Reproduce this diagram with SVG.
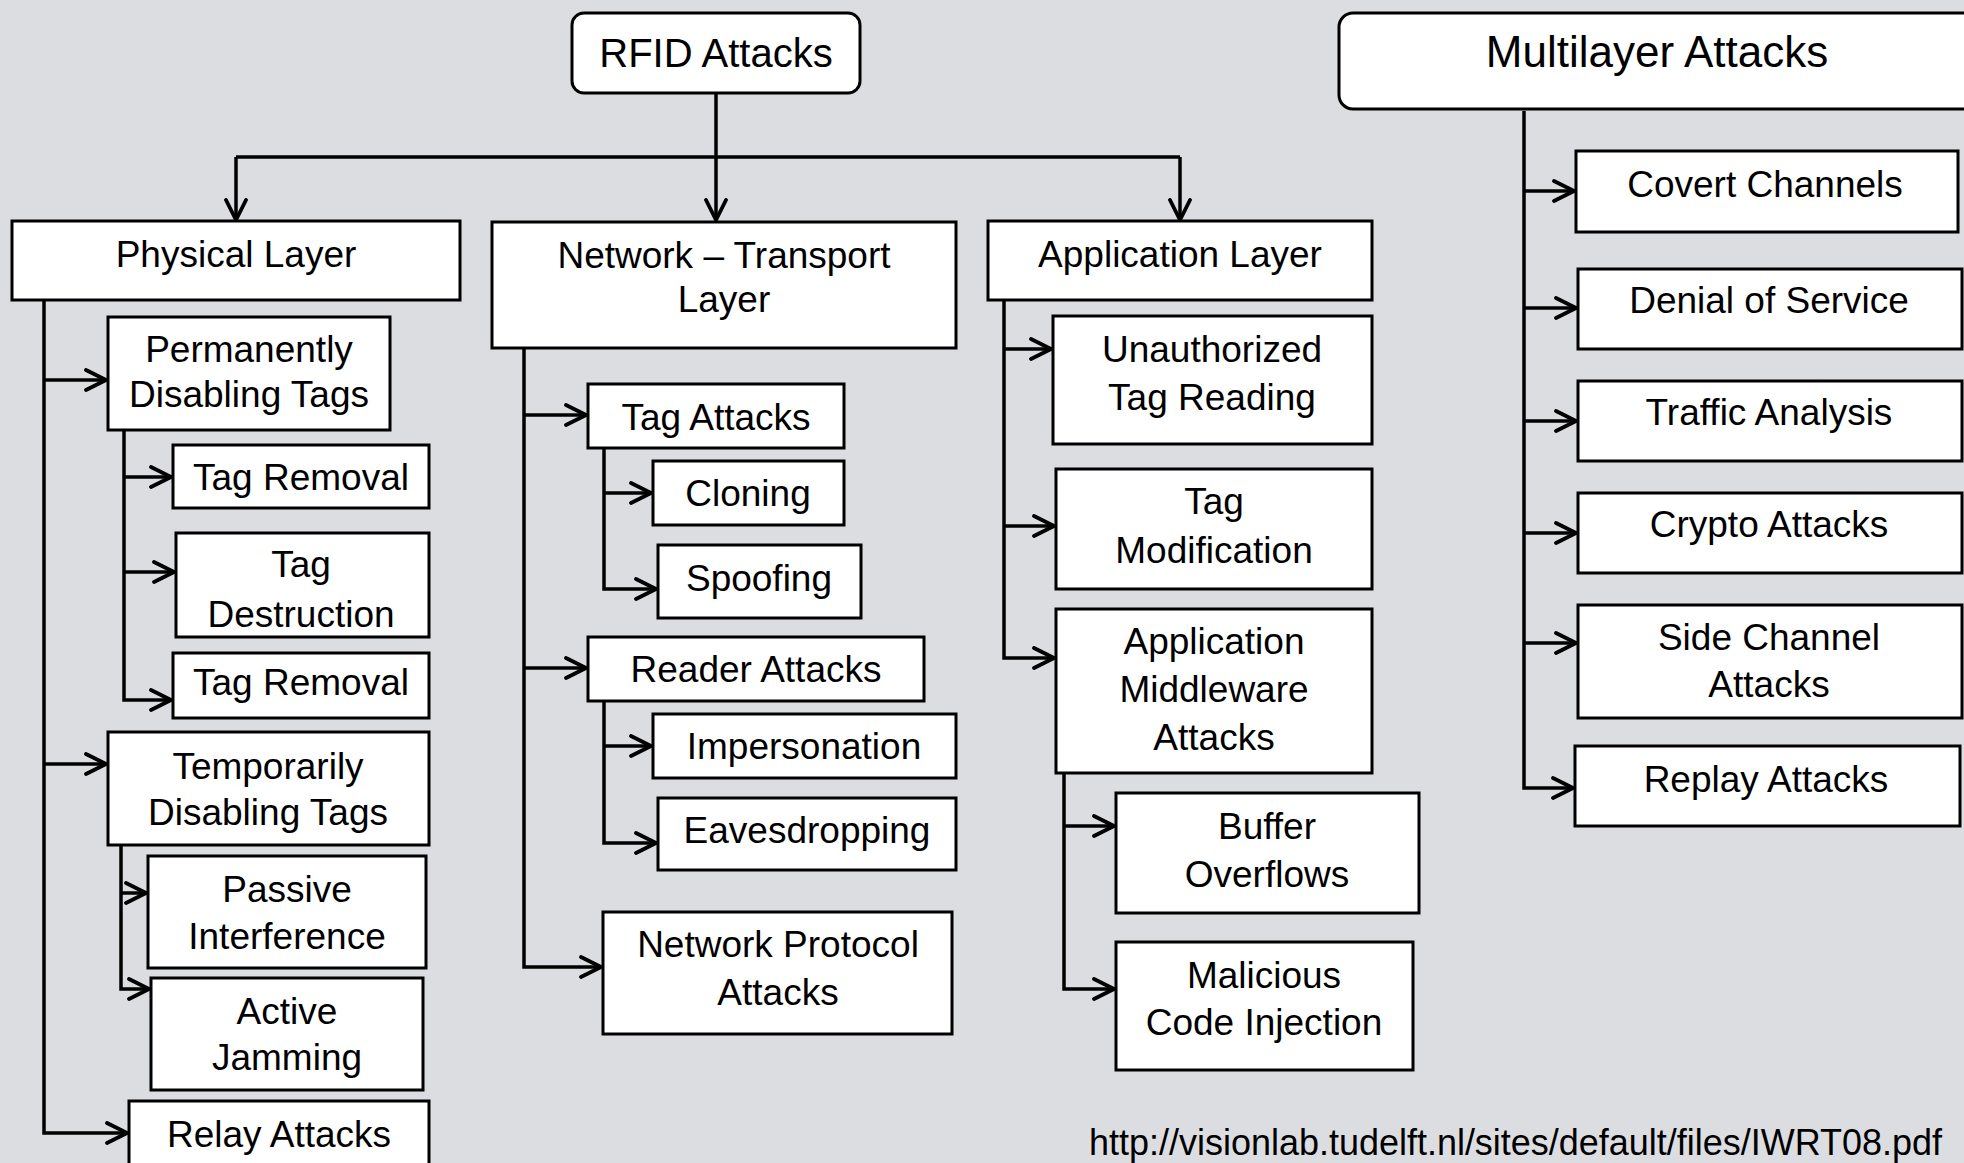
<svg xmlns="http://www.w3.org/2000/svg" width="1964" height="1163" viewBox="0 0 1964 1163">
  <style>
    .box { fill: #ffffff; stroke: #000000; stroke-width: 3; }
    .lbl { font-family: "Liberation Sans", Arial, sans-serif; font-size: 37px; fill: #000000; text-anchor: middle; }
    .ttl { font-family: "Liberation Sans", Arial, sans-serif; fill: #000000; text-anchor: middle; }
    .url { font-family: "Liberation Sans", Arial, sans-serif; font-size: 36px; fill: #000000; }
    .wire { fill: none; stroke: #000000; stroke-width: 3.5; }
    .arr { marker-end: url(#chev); }
  </style>
  <defs>
    <marker id="chev" markerUnits="userSpaceOnUse" viewBox="-2 -2 26 26" refX="20" refY="10" markerWidth="26" markerHeight="26" orient="auto">
      <path d="M0,0 L20,10 L0,20" fill="none" stroke="#000000" stroke-width="3.8" stroke-linejoin="round" stroke-linecap="round"/>
    </marker>
  </defs>

  <rect width="1964" height="1163" fill="#dcdde0"/>

  <!-- connectors -->
  <g id="connectors">
    <!-- root to the three layers -->
    <path class="wire" d="M236,157 H1180" stroke-width="4"/>
    <path class="wire arr" d="M716,93 V220"/>
    <path class="wire arr" d="M236,157 V220"/>
    <path class="wire arr" d="M1180,157 V220"/>

    <!-- physical layer -->
    <path class="wire arr" d="M44,300 V1133 H127"/>
    <path class="wire arr" d="M44,380 H106"/>
    <path class="wire arr" d="M44,764 H106"/>
    <path class="wire arr" d="M124,430 V700 H171"/>
    <path class="wire arr" d="M124,477 H171"/>
    <path class="wire arr" d="M124,572 H174"/>
    <path class="wire arr" d="M121,845 V989 H149"/>
    <path class="wire arr" d="M121,893 H146"/>

    <!-- network - transport layer -->
    <path class="wire arr" d="M524,348 V967 H601"/>
    <path class="wire arr" d="M524,415 H586"/>
    <path class="wire arr" d="M524,668 H586"/>
    <path class="wire arr" d="M604,448 V589 H656"/>
    <path class="wire arr" d="M604,493 H651"/>
    <path class="wire arr" d="M604,701 V843 H656"/>
    <path class="wire arr" d="M604,746 H651"/>

    <!-- application layer -->
    <path class="wire arr" d="M1004,300 V658 H1054"/>
    <path class="wire arr" d="M1004,349 H1051"/>
    <path class="wire arr" d="M1004,526 H1054"/>
    <path class="wire arr" d="M1064,773 V989 H1114"/>
    <path class="wire arr" d="M1064,826 H1114"/>

    <!-- multilayer -->
    <path class="wire arr" d="M1524,111 V788 H1573"/>
    <path class="wire arr" d="M1524,191 H1574"/>
    <path class="wire arr" d="M1524,308 H1576"/>
    <path class="wire arr" d="M1524,421 H1576"/>
    <path class="wire arr" d="M1524,533 H1576"/>
    <path class="wire arr" d="M1524,643 H1576"/>
  </g>

  <!-- roots -->
  <g id="rfid-attacks">
    <rect class="box" x="572" y="13" width="288" height="80" rx="12"/>
    <text class="ttl" x="716" y="67" font-size="40">RFID Attacks</text>
  </g>
  <g id="multilayer-attacks">
    <rect class="box" x="1339" y="13" width="660" height="96" rx="14"/>
    <text class="ttl" x="1657" y="67" font-size="44">Multilayer Attacks</text>
  </g>

  <!-- layers -->
  <g id="physical-layer">
    <rect class="box" x="12" y="221" width="448" height="79"/>
    <text class="lbl" x="236" y="267">Physical Layer</text>
  </g>
  <g id="network-transport-layer">
    <rect class="box" x="492" y="222" width="464" height="126"/>
    <text class="lbl" x="724" y="268">Network – Transport</text>
    <text class="lbl" x="724" y="312">Layer</text>
  </g>
  <g id="application-layer">
    <rect class="box" x="988" y="221" width="384" height="79"/>
    <text class="lbl" x="1180" y="267">Application Layer</text>
  </g>

  <!-- physical layer attacks -->
  <g id="permanently-disabling-tags">
    <rect class="box" x="108" y="317" width="282" height="113"/>
    <text class="lbl" x="249" y="362">Permanently</text>
    <text class="lbl" x="249" y="407">Disabling Tags</text>
  </g>
  <g id="tag-removal-1">
    <rect class="box" x="173" y="445" width="256" height="63"/>
    <text class="lbl" x="301" y="490">Tag Removal</text>
  </g>
  <g id="tag-destruction">
    <rect class="box" x="176" y="533" width="253" height="104"/>
    <text class="lbl" x="301" y="577">Tag</text>
    <text class="lbl" x="301" y="627">Destruction</text>
  </g>
  <g id="tag-removal-2">
    <rect class="box" x="173" y="653" width="256" height="65"/>
    <text class="lbl" x="301" y="695">Tag Removal</text>
  </g>
  <g id="temporarily-disabling-tags">
    <rect class="box" x="108" y="732" width="321" height="113"/>
    <text class="lbl" x="268" y="779">Temporarily</text>
    <text class="lbl" x="268" y="825">Disabling Tags</text>
  </g>
  <g id="passive-interference">
    <rect class="box" x="148" y="856" width="278" height="112"/>
    <text class="lbl" x="287" y="902">Passive</text>
    <text class="lbl" x="287" y="949">Interference</text>
  </g>
  <g id="active-jamming">
    <rect class="box" x="151" y="978" width="272" height="112"/>
    <text class="lbl" x="287" y="1024">Active</text>
    <text class="lbl" x="287" y="1070">Jamming</text>
  </g>
  <g id="relay-attacks">
    <rect class="box" x="129" y="1101" width="300" height="90"/>
    <text class="lbl" x="279" y="1147">Relay Attacks</text>
  </g>

  <!-- network - transport layer attacks -->
  <g id="tag-attacks">
    <rect class="box" x="588" y="384" width="256" height="64"/>
    <text class="lbl" x="716" y="430">Tag Attacks</text>
  </g>
  <g id="cloning">
    <rect class="box" x="653" y="461" width="191" height="64"/>
    <text class="lbl" x="748" y="506">Cloning</text>
  </g>
  <g id="spoofing">
    <rect class="box" x="658" y="545" width="203" height="73"/>
    <text class="lbl" x="759" y="591">Spoofing</text>
  </g>
  <g id="reader-attacks">
    <rect class="box" x="588" y="637" width="336" height="64"/>
    <text class="lbl" x="756" y="682">Reader Attacks</text>
  </g>
  <g id="impersonation">
    <rect class="box" x="653" y="714" width="303" height="64"/>
    <text class="lbl" x="804" y="759">Impersonation</text>
  </g>
  <g id="eavesdropping">
    <rect class="box" x="658" y="798" width="298" height="72"/>
    <text class="lbl" x="807" y="843">Eavesdropping</text>
  </g>
  <g id="network-protocol-attacks">
    <rect class="box" x="603" y="912" width="349" height="122"/>
    <text class="lbl" x="778" y="957">Network Protocol</text>
    <text class="lbl" x="778" y="1005">Attacks</text>
  </g>

  <!-- application layer attacks -->
  <g id="unauthorized-tag-reading">
    <rect class="box" x="1053" y="316" width="319" height="128"/>
    <text class="lbl" x="1212" y="362">Unauthorized</text>
    <text class="lbl" x="1212" y="410">Tag Reading</text>
  </g>
  <g id="tag-modification">
    <rect class="box" x="1056" y="469" width="316" height="120"/>
    <text class="lbl" x="1214" y="514">Tag</text>
    <text class="lbl" x="1214" y="563">Modification</text>
  </g>
  <g id="application-middleware-attacks">
    <rect class="box" x="1056" y="609" width="316" height="164"/>
    <text class="lbl" x="1214" y="654">Application</text>
    <text class="lbl" x="1214" y="702">Middleware</text>
    <text class="lbl" x="1214" y="750">Attacks</text>
  </g>
  <g id="buffer-overflows">
    <rect class="box" x="1116" y="793" width="303" height="120"/>
    <text class="lbl" x="1267" y="839">Buffer</text>
    <text class="lbl" x="1267" y="887">Overflows</text>
  </g>
  <g id="malicious-code-injection">
    <rect class="box" x="1116" y="942" width="297" height="128"/>
    <text class="lbl" x="1264" y="988">Malicious</text>
    <text class="lbl" x="1264" y="1035">Code Injection</text>
  </g>

  <!-- multilayer attacks -->
  <g id="covert-channels">
    <rect class="box" x="1576" y="151" width="382" height="81"/>
    <text class="lbl" x="1765" y="197">Covert Channels</text>
  </g>
  <g id="denial-of-service">
    <rect class="box" x="1578" y="269" width="384" height="80"/>
    <text class="lbl" x="1769" y="313">Denial of Service</text>
  </g>
  <g id="traffic-analysis">
    <rect class="box" x="1578" y="381" width="384" height="80"/>
    <text class="lbl" x="1769" y="425">Traffic Analysis</text>
  </g>
  <g id="crypto-attacks">
    <rect class="box" x="1578" y="493" width="384" height="80"/>
    <text class="lbl" x="1769" y="537">Crypto Attacks</text>
  </g>
  <g id="side-channel-attacks">
    <rect class="box" x="1578" y="605" width="384" height="113"/>
    <text class="lbl" x="1769" y="650">Side Channel</text>
    <text class="lbl" x="1769" y="697">Attacks</text>
  </g>
  <g id="replay-attacks">
    <rect class="box" x="1575" y="746" width="385" height="80"/>
    <text class="lbl" x="1766" y="792">Replay Attacks</text>
  </g>

  <!-- source reference -->
  <text class="url" x="1089" y="1155" textLength="853" lengthAdjust="spacingAndGlyphs">http://visionlab.tudelft.nl/sites/default/files/IWRT08.pdf</text>
</svg>
